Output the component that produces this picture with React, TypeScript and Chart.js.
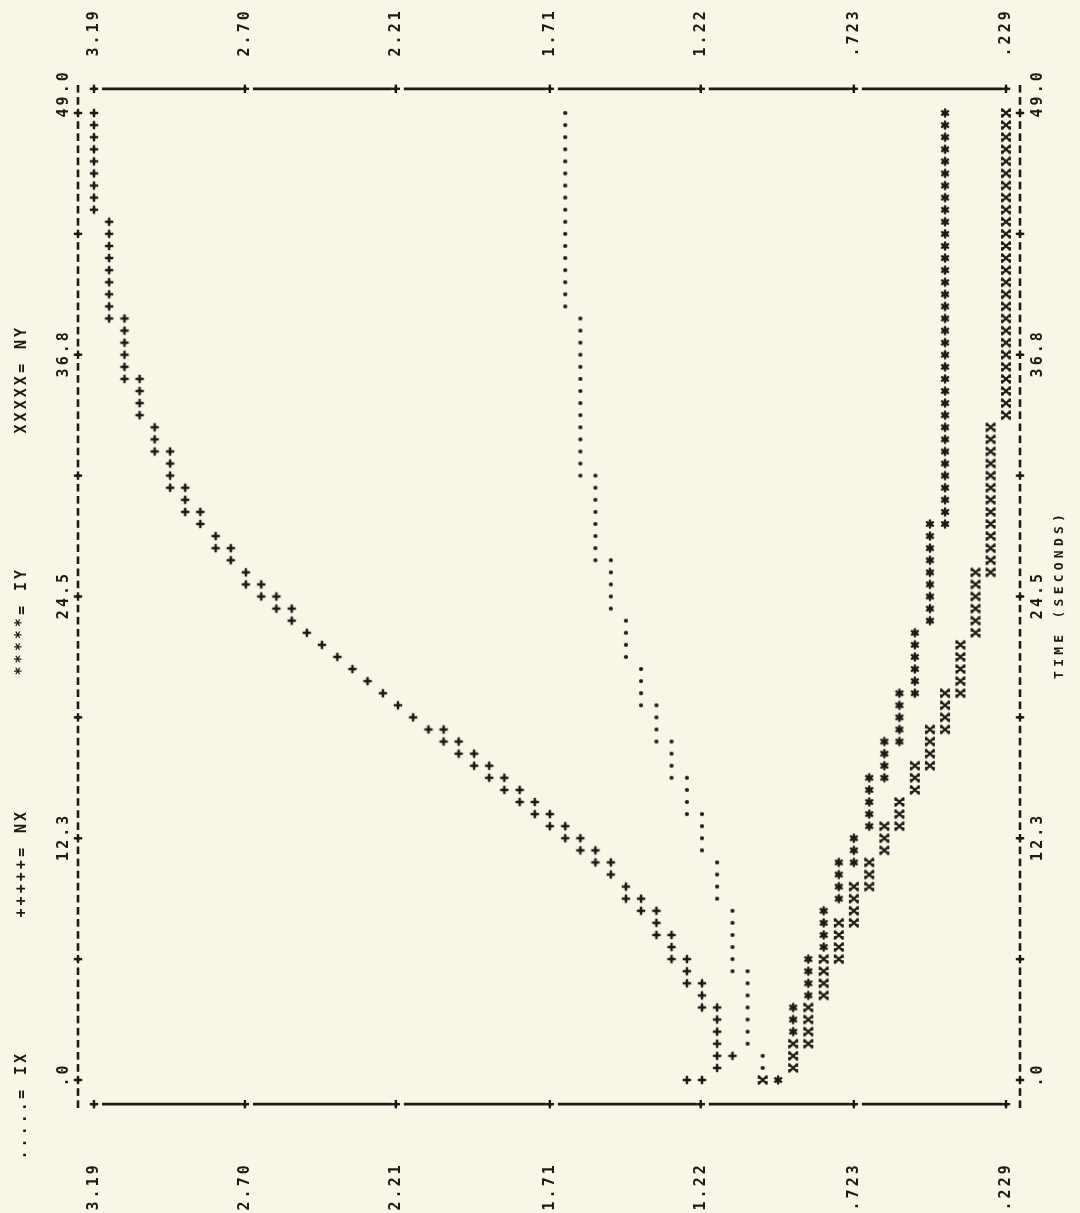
import { useEffect, useRef } from "react";
import { Chart, registerables } from "chart.js";

Chart.register(...registerables);

// ---- data -------------------------------------------------------------
// One printed line of the plot = one time step.
const DT = 49 / 80; // seconds per printed line (80 lines from 0 to 49 s)
const TIME_MAX = 49.0;
const VALUE_MIN = 0.229;
const VALUE_MAX = 3.19;

const VALUE_TICKS = [3.19, 2.7, 2.21, 1.71, 1.22, 0.723, 0.229];
const VALUE_TICK_LABELS = ["3.19", "2.70", "2.21", "1.71", "1.22", ".723", ".229"];
const TIME_TICK_STEPS = [0, 10, 20, 30, 40, 50, 60, 70, 80]; // printed-line index of each axis "+"
const TIME_TICK_LABELS = [".0", "", "12.3", "", "24.5", "", "36.8", "", "49.0"];

const LEGEND_SYMBOLS = [".....", "+++++", "*****", "XXXXX"];
const LEGEND_NAMES = ["IX", "NX", "IY", "NY"];
const AXIS_TITLE = "TIME (SECONDS)";

// Each run: [value, first printed line, last printed line]
const IX_RUNS: [number, number, number][] = [
  [1.66, 64, 80], [1.611, 50, 63], [1.562, 43, 50], [1.512, 39, 43],
  [1.463, 35, 38], [1.414, 31, 34], [1.364, 28, 31], [1.315, 25, 28],
  [1.265, 22, 25], [1.216, 19, 22], [1.167, 15, 18], [1.117, 9, 14],
  [1.068, 3, 9], [1.019, 1, 2],
];

const NX_RUNS: [number, number, number][] = [
  [3.19, 72, 80], [3.141, 63, 71], [3.091, 58, 63], [3.042, 55, 58],
  [2.993, 52, 54], [2.943, 49, 52], [2.894, 47, 49], [2.845, 46, 47],
  [2.795, 44, 45], [2.746, 43, 44], [2.697, 41, 42], [2.647, 40, 41],
  [2.598, 39, 40], [2.548, 38, 39], [2.499, 37, 37], [2.45, 36, 36],
  [2.4, 35, 35], [2.351, 34, 34], [2.302, 33, 33], [2.252, 32, 32],
  [2.203, 31, 31], [2.154, 30, 30], [2.104, 29, 29], [2.055, 28, 29],
  [2.006, 27, 28], [1.956, 26, 27], [1.907, 25, 26], [1.858, 24, 25],
  [1.808, 23, 24], [1.759, 22, 23], [1.71, 21, 22], [1.66, 20, 21],
  [1.611, 19, 20], [1.562, 18, 19], [1.512, 17, 18], [1.463, 15, 16],
  [1.414, 14, 15], [1.364, 12, 14], [1.315, 10, 12], [1.265, 8, 10],
  [1.216, 6, 8], [1.167, 1, 6], [1.117, 2, 2], [1.265, 0, 0], [1.216, 0, 0],
];

const IY_RUNS: [number, number, number][] = [
  [0.427, 46, 80], [0.476, 38, 46], [0.525, 32, 37], [0.575, 28, 32],
  [0.624, 25, 28], [0.673, 21, 25], [0.723, 18, 20], [0.772, 15, 18],
  [0.821, 11, 14], [0.871, 7, 10], [0.92, 4, 6], [0.969, 0, 0],
];

const NY_RUNS: [number, number, number][] = [
  [0.229, 55, 80], [0.279, 42, 54], [0.328, 37, 42], [0.377, 32, 36],
  [0.427, 29, 32], [0.476, 26, 29], [0.525, 24, 26], [0.575, 21, 23],
  [0.624, 19, 21], [0.673, 16, 18], [0.723, 13, 16], [0.772, 10, 13],
  [0.821, 7, 10], [0.871, 3, 6], [0.92, 1, 3], [1.019, 0, 0],
];

// ---- styling ----------------------------------------------------------
const PAPER = "#f8f6e7";
const INK = "#1d1a17";
const CHAR_STEP = 12.08; // printer character pitch in px
const LABEL_FONT = 'bold 15px "DejaVu Sans Mono"';

function expand(runs: [number, number, number][]) {
  const pts: { x: number; y: number }[] = [];
  for (const [v, a, b] of runs) {
    for (let s = a; s <= b; s++) pts.push({ x: v, y: s * DT });
  }
  return pts;
}

function glyph(draw: (ctx: CanvasRenderingContext2D) => void, size = 18) {
  const c = document.createElement("canvas");
  c.width = size;
  c.height = size;
  const ctx = c.getContext("2d")!;
  ctx.translate(size / 2, size / 2);
  ctx.fillStyle = INK;
  ctx.strokeStyle = INK;
  draw(ctx);
  return c;
}

function drawPlus(ctx: CanvasRenderingContext2D) {
  ctx.fillRect(-4.2, -1.2, 8.4, 2.4);
  ctx.fillRect(-1.2, -4.2, 2.4, 8.4);
  ctx.beginPath();
  ctx.moveTo(0, -2.8);
  ctx.lineTo(2.8, 0);
  ctx.lineTo(0, 2.8);
  ctx.lineTo(-2.8, 0);
  ctx.closePath();
  ctx.fill();
}

function rotChar(ctx: CanvasRenderingContext2D, ch: string, x: number, y: number, font: string) {
  ctx.save();
  ctx.translate(x, y);
  ctx.rotate(-Math.PI / 2);
  ctx.font = font;
  ctx.textAlign = "center";
  ctx.textBaseline = "middle";
  ctx.fillText(ch, 0, 0);
  ctx.restore();
}

// text read bottom-to-top, first character centred at (x, yFirst)
function rotText(ctx: CanvasRenderingContext2D, text: string, x: number, yFirst: number, font = LABEL_FONT) {
  for (let k = 0; k < text.length; k++) {
    if (text[k] !== " ") rotChar(ctx, text[k], x, yFirst - k * CHAR_STEP, font);
  }
}

export default function App() {
  const ref = useRef<HTMLCanvasElement | null>(null);

  useEffect(() => {
    document.body.style.margin = "0";
    document.body.style.background = PAPER;
    const canvas = ref.current!;

    const plusG = glyph(drawPlus);
    const dotG = glyph((ctx) => {
      ctx.beginPath();
      ctx.arc(0, 0, 2.1, 0, Math.PI * 2);
      ctx.fill();
    });
    const starG = glyph((ctx) => {
      ctx.lineWidth = 2.4;
      ctx.lineCap = "round";
      for (let a = 0; a < 3; a++) {
        const ang = Math.PI / 2 + (a * Math.PI) / 3;
        ctx.beginPath();
        ctx.moveTo(-3.5 * Math.cos(ang), -3.5 * Math.sin(ang));
        ctx.lineTo(3.5 * Math.cos(ang), 3.5 * Math.sin(ang));
        ctx.stroke();
      }
      ctx.beginPath();
      ctx.arc(0, 0, 2.6, 0, Math.PI * 2);
      ctx.fill();
    });
    const xG = glyph((ctx) => {
      // printer "X" turned on its side: diagonals with serif bars on left/right
      ctx.lineWidth = 2.1;
      ctx.beginPath();
      ctx.moveTo(-4, -3.6);
      ctx.lineTo(4, 3.6);
      ctx.moveTo(-4, 3.6);
      ctx.lineTo(4, -3.6);
      ctx.stroke();
      ctx.fillRect(-5, -4.6, 2.2, 3.4);
      ctx.fillRect(-5, 1.2, 2.2, 3.4);
      ctx.fillRect(2.8, -4.6, 2.2, 3.4);
      ctx.fillRect(2.8, 1.2, 2.2, 3.4);
    });

    const framePlugin = {
      id: "printerFrame",
      beforeDraw(chart: any) {
        const c = chart.ctx as CanvasRenderingContext2D;
        c.save();
        c.fillStyle = PAPER;
        c.fillRect(0, 0, chart.width, chart.height);
        c.restore();
      },
      afterDraw(chart: any) {
        const c = chart.ctx as CanvasRenderingContext2D;
        const xs = chart.scales.x;
        const ys = chart.scales.y;
        c.save();
        c.fillStyle = INK;
        c.strokeStyle = INK;

        const top = ys.getPixelForValue(TIME_MAX + 2 * DT);
        const bottom = ys.getPixelForValue(-2 * DT);
        const leftX = xs.getPixelForValue(VALUE_MAX) - 16;
        const rightX = xs.getPixelForValue(VALUE_MIN) + 14;

        // value axes (top & bottom): solid rules with "+" at each tick
        const tickPx = VALUE_TICKS.map((v) => xs.getPixelForValue(v));
        for (const yy of [top, bottom]) {
          c.lineWidth = 2.8;
          for (let i = 0; i < tickPx.length - 1; i++) {
            c.beginPath();
            c.moveTo(tickPx[i] + 8, yy);
            c.lineTo(tickPx[i + 1] - 4, yy);
            c.stroke();
          }
          for (const px of tickPx) {
            c.save();
            c.translate(px, yy);
            drawPlus(c);
            c.restore();
          }
        }

        // time axes (left & right): dashed rules with "+" every 10 lines
        const tickSteps = new Set(TIME_TICK_STEPS);
        for (const xx of [leftX, rightX]) {
          for (let s = -2; s <= 82; s++) {
            const yy = ys.getPixelForValue(s * DT);
            if (tickSteps.has(s)) {
              c.save();
              c.translate(xx, yy);
              drawPlus(c);
              c.restore();
            } else {
              c.fillRect(xx - 1.3, yy - 3.8, 2.6, 7.6);
            }
          }
        }

        // value tick labels top and bottom
        VALUE_TICKS.forEach((v, i) => {
          const px = xs.getPixelForValue(v);
          const lab = VALUE_TICK_LABELS[i];
          rotText(c, lab, px, 52);
          rotText(c, lab, px, 1206);
        });

        // time tick labels left and right
        TIME_TICK_STEPS.forEach((s, i) => {
          const lab = TIME_TICK_LABELS[i];
          if (!lab) return;
          const yy = ys.getPixelForValue(s * DT);
          let first = yy + (lab.length - 1) * CHAR_STEP * 0.5;
          if (i === 0) first = yy + 2;
          if (i === TIME_TICK_STEPS.length - 1) first = yy;
          rotText(c, lab, leftX - 14, first);
          rotText(c, lab, rightX + 18, first);
        });

        // legend along the left edge
        const legendStart = [1155, 913, 671, 429];
        LEGEND_SYMBOLS.forEach((sym, i) => {
          rotText(c, sym + "= " + LEGEND_NAMES[i], 22, legendStart[i]);
        });

        // axis title
        const mid = ys.getPixelForValue(TIME_MAX / 2);
        rotText(c, AXIS_TITLE, rightX + 40, mid + (AXIS_TITLE.length - 1) * CHAR_STEP * 0.5, 'bold 13px "DejaVu Sans Mono"');
        c.restore();
      },
    };

    const mk = (label: string, runs: [number, number, number][], g: HTMLCanvasElement) => ({
      label,
      data: expand(runs),
      pointStyle: g,
      pointRadius: 5,
      showLine: false,
      clip: false as any,
    });

    const chart = new Chart(canvas, {
      type: "scatter",
      data: {
        datasets: [
          mk("IX", IX_RUNS, dotG),
          mk("NX", NX_RUNS, plusG),
          mk("IY", IY_RUNS, starG),
          mk("NY", NY_RUNS, xG),
        ],
      },
      options: {
        animation: false,
        responsive: false,
        devicePixelRatio: 1,
        events: [],
        layout: { padding: { left: 94, right: 74, top: 113, bottom: 133 } },
        plugins: { legend: { display: false }, tooltip: { enabled: false } },
        scales: {
          x: { type: "linear", reverse: true, min: VALUE_MIN, max: VALUE_MAX, display: false },
          y: { type: "linear", min: 0, max: TIME_MAX, display: false },
        },
      },
      plugins: [framePlugin],
    });
    return () => chart.destroy();
  }, []);

  return (
    <div style={{ width: 1080, height: 1213, background: PAPER }}>
      <canvas ref={ref} width={1080} height={1213} style={{ display: "block" }} />
    </div>
  );
}
